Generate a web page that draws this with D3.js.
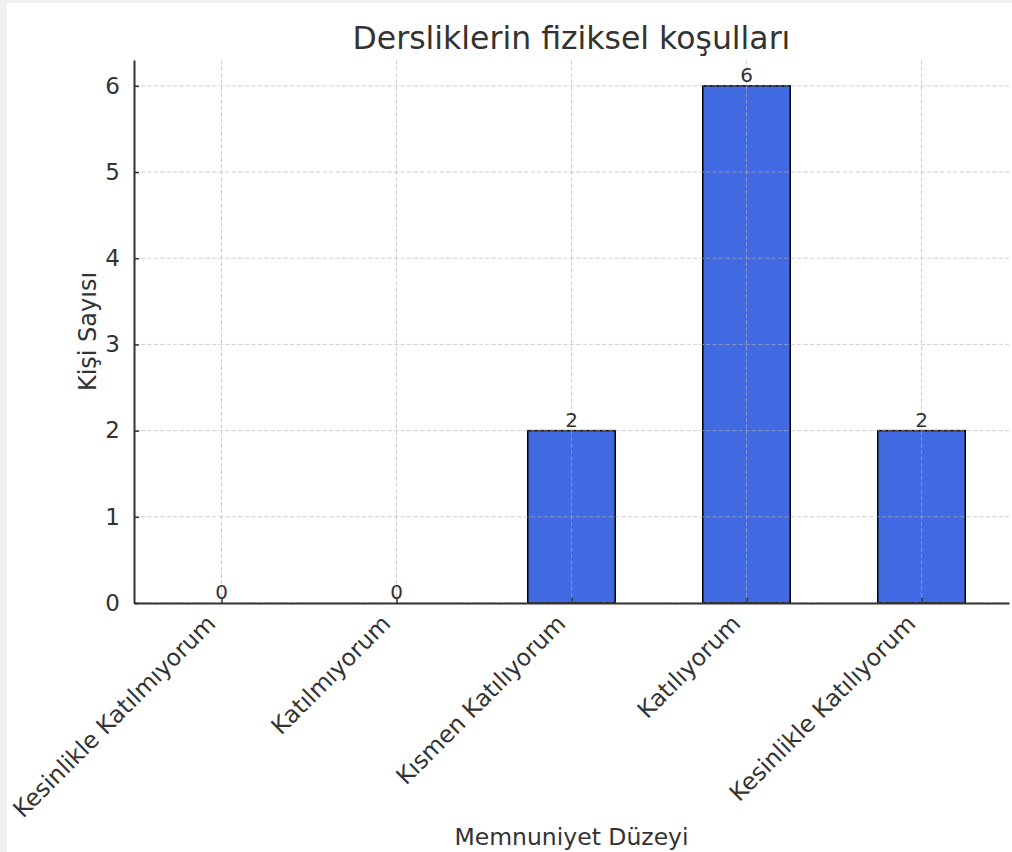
<!DOCTYPE html>
<html>
<head>
<meta charset="utf-8">
<script src="https://cdn.jsdelivr.net/npm/d3@7"></script>
<style>
html, body { margin: 0; padding: 0; background: #f0f0f0; }
svg { display: block; }
text { font-family: "DejaVu Sans", sans-serif; fill: #333; }
</style>
</head>
<body>
<script>
const categories = ["Kesinlikle Katılmıyorum", "Katılmıyorum", "Kısmen Katılıyorum", "Katılıyorum", "Kesinlikle Katılıyorum"];
const values = [0, 0, 2, 6, 2];
const yTicks = [0, 1, 2, 3, 4, 5, 6];
const title = "Dersliklerin fiziksel koşulları";
const xLabel = "Memnuniyet Düzeyi";
const yLabel = "Kişi Sayısı";

const W = 1012, H = 852;
const svg = d3.select("body").append("svg").attr("width", W).attr("height", H);
svg.append("rect").attr("x", 7).attr("y", 3).attr("width", W - 7).attr("height", H - 3).attr("fill", "#fff");

const mLeft = 134, mRight = 1009, mTop = 60, mBottom = 603;

const x = d3.scaleLinear().domain([-0.5, categories.length - 0.5]).range([mLeft, mRight]);
const y = d3.scaleLinear().domain([0, 6.3]).range([mBottom, mTop]);
const bw = (x(1) - x(0)) * 0.5;

// bars
svg.append("g").selectAll("rect").data(values).join("rect")
  .attr("x", (d, i) => x(i) - bw / 2)
  .attr("y", d => y(d))
  .attr("width", bw)
  .attr("height", d => y(0) - y(d))
  .attr("fill", "#4169E1")
  .attr("stroke", "#000")
  .attr("stroke-width", 1.5);

// grid (on top)
const grid = svg.append("g").attr("stroke", "#b0b0b0").attr("stroke-opacity", 0.6)
  .attr("stroke-dasharray", "4.5,2").attr("stroke-width", 1);
grid.selectAll("line.h").data(yTicks).join("line").attr("class", "h")
  .attr("x1", mLeft).attr("x2", mRight).attr("y1", d => y(d)).attr("y2", d => y(d));
grid.selectAll("line.v").data(categories).join("line").attr("class", "v")
  .attr("x1", (d, i) => x(i)).attr("x2", (d, i) => x(i)).attr("y1", mTop).attr("y2", mBottom);

// y axis
const yAxis = d3.axisLeft(y).tickValues(yTicks).tickFormat(d3.format("d")).tickSizeInner(-5).tickSizeOuter(0).tickPadding(14);
const gy = svg.append("g").attr("transform", `translate(${mLeft},0)`).call(yAxis);
gy.select(".domain").attr("stroke", "#333").attr("stroke-width", 2);
gy.selectAll(".tick line").attr("stroke", "#333").attr("stroke-width", 1.5);
gy.selectAll(".tick text").attr("font-size", 23).attr("fill", "#333").style("font-family", "DejaVu Sans");

// x axis
const xAxis = d3.axisBottom(x).tickValues(d3.range(categories.length)).tickFormat(i => categories[i]).tickSizeInner(-5).tickSizeOuter(0);
const gx = svg.append("g").attr("transform", `translate(0,${mBottom})`).call(xAxis);
gx.select(".domain").attr("stroke", "#333").attr("stroke-width", 2);
gx.selectAll(".tick line").attr("stroke", "#333").attr("stroke-width", 1.5);
gx.selectAll(".tick text")
  .attr("font-size", 23.5).attr("fill", "#333").style("font-family", "DejaVu Sans")
  .attr("text-anchor", "end")
  .attr("x", 0).attr("y", 0).attr("dy", 0)
  .attr("transform", "translate(-5,22) rotate(-45)");

// value labels
svg.append("g").selectAll("text").data(values).join("text")
  .attr("x", (d, i) => x(i))
  .attr("y", d => y(d) - 4)
  .attr("text-anchor", "middle")
  .attr("font-size", 20)
  .text(d => d);

// title
svg.append("text").attr("x", (mLeft + mRight) / 2).attr("y", 49).attr("text-anchor", "middle")
  .attr("font-size", 31.5).text(title);

// axis labels
svg.append("text").attr("x", (mLeft + mRight) / 2).attr("y", 845).attr("text-anchor", "middle")
  .attr("font-size", 23.5).text(xLabel);
svg.append("text").attr("transform", `translate(96,${(mTop + mBottom) / 2}) rotate(-90)`).attr("text-anchor", "middle")
  .attr("font-size", 24).text(yLabel);
</script>
</body>
</html>
